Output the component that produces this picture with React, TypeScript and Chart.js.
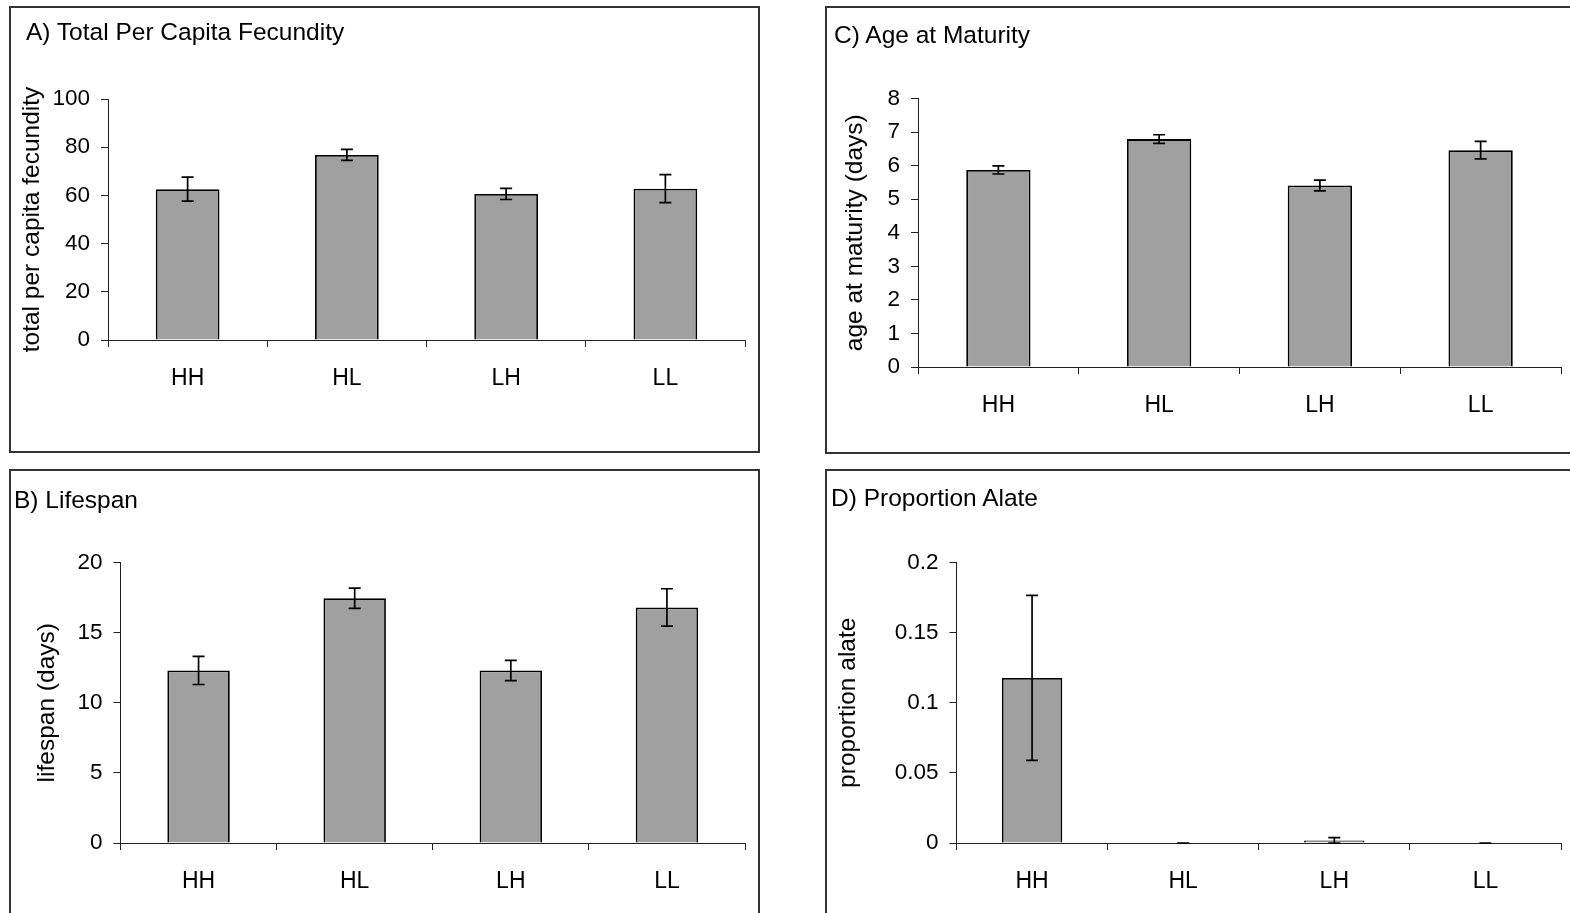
import React, { useEffect, useRef } from 'react';
import { Chart, registerables } from 'chart.js';

Chart.register(...registerables);

// ---- data ----
const categories = ['HH', 'HL', 'LH', 'LL'];

const fecundity = [62.6, 76.8, 60.6, 62.8];
const fecundityErr = [5.0, 2.3, 2.3, 5.8];
const fecundityTicks = [0, 20, 40, 60, 80, 100];

const maturity = [5.87, 6.79, 5.41, 6.46];
const maturityErr = [0.12, 0.13, 0.16, 0.26];
const maturityTicks = [0, 1, 2, 3, 4, 5, 6, 7, 8];

const lifespan = [12.3, 17.45, 12.3, 16.8];
const lifespanErr = [1.0, 0.72, 0.72, 1.33];
const lifespanTicks = [0, 5, 10, 15, 20];

const alate = [0.1177, 0, 0.0017, 0];
const alateErr = [0.0588, 0, 0.0021, 0];
const alateTicks = [0, 0.05, 0.1, 0.15, 0.2];

const FONT = '"Liberation Sans", Arial, Helvetica, sans-serif';

const errorBarPlugin = {
  id: 'errorBars',
  afterDatasetsDraw(chart: any, _args: any, opts: any) {
    const errs: number[] = opts.errors || [];
    const meta = chart.getDatasetMeta(0);
    const y = chart.scales.y;
    const ctx = chart.ctx;
    const vals = chart.data.datasets[0].data as number[];
    ctx.save();
    ctx.strokeStyle = '#000';
    ctx.lineWidth = 1.7;
    meta.data.forEach((bar: any, i: number) => {
      const v = vals[i];
      const e = errs[i] ?? 0;
      const yt = y.getPixelForValue(v + e);
      const yb = y.getPixelForValue(Math.max(v - e, 0));
      const x = bar.x;
      ctx.beginPath();
      ctx.moveTo(x, yt);
      ctx.lineTo(x, yb);
      ctx.moveTo(x - 6, yt);
      ctx.lineTo(x + 6, yt);
      ctx.moveTo(x - 6, yb);
      ctx.lineTo(x + 6, yb);
      ctx.stroke();
    });
    ctx.restore();
  },
};

type PanelProps = {
  title: string;
  yTitle: string;
  values: number[];
  errors: number[];
  ticks: number[];
  box: { left: number; top: number; width: number; height: number };
  titlePos: { left: number; top: number };
  yWidth: number;
  pad: { top: number; right: number; bottom: number };
  yTitlePad: number;
};

function Panel(p: PanelProps) {
  const ref = useRef<HTMLCanvasElement | null>(null);
  useEffect(() => {
    if (!ref.current) return;
    const chart = new Chart(ref.current, {
      type: 'bar',
      data: {
        labels: categories,
        datasets: [
          {
            data: p.values,
            backgroundColor: '#a0a0a0',
            borderColor: '#000',
            borderWidth: 1.8,
            barPercentage: 0.4,
            categoryPercentage: 1,
          },
        ],
      },
      options: {
        animation: false,
        responsive: true,
        maintainAspectRatio: false,
        layout: { padding: { top: p.pad.top, right: p.pad.right, bottom: p.pad.bottom, left: 0 } },
        plugins: {
          legend: { display: false },
          tooltip: { enabled: false },
          title: { display: false },
          errorBars: { errors: p.errors },
        } as any,
        scales: {
          x: {
            grid: { display: true, drawOnChartArea: false, drawTicks: true, tickLength: 7, color: '#222', offset: true },
            border: { display: true, color: '#222', width: 1 },
            ticks: { color: '#000', font: { family: FONT, size: 23 }, padding: 17.5, maxRotation: 0, autoSkip: false },
            afterFit: (s: any) => {
              s.height = 60;
            },
          },
          y: {
            min: 0,
            max: p.ticks[p.ticks.length - 1],
            afterBuildTicks: (s: any) => {
              s.ticks = p.ticks.map((v) => ({ value: v }));
            },
            grid: { display: true, drawOnChartArea: false, drawTicks: true, tickLength: 7, color: '#222' },
            border: { display: true, color: '#222', width: 1 },
            ticks: {
              color: '#000',
              font: { family: FONT, size: 22.5 },
              padding: 11,
              callback: (v: any) => String(v),
            },
            title: {
              display: true,
              text: p.yTitle,
              color: '#000',
              font: { family: FONT, size: 24.5 },
              padding: { top: p.yTitlePad, bottom: 0 },
            },
            afterFit: (s: any) => {
              s.width = p.yWidth;
            },
          },
        },
      } as any,
      plugins: [errorBarPlugin],
    });
    return () => chart.destroy();
  }, []);

  return (
    <>
      <div
        style={{
          position: 'absolute',
          left: p.box.left,
          top: p.box.top,
          width: p.box.width,
          height: p.box.height,
          border: '2px solid #333',
          boxSizing: 'border-box',
          background: '#fff',
        }}
      >
        <div style={{ position: 'relative', width: '100%', height: '100%' }}>
          <canvas ref={ref} />
        </div>
      </div>
      <div
        style={{
          position: 'absolute',
          left: p.titlePos.left,
          top: p.titlePos.top,
          fontFamily: FONT,
          fontSize: 24.5,
          lineHeight: 1,
          color: '#000',
          whiteSpace: 'nowrap',
        }}
      >
        {p.title}
      </div>
    </>
  );
}

export default function App() {
  return (
    <div style={{ position: 'fixed', left: 0, top: 0, width: '100vw', height: '100vh', overflow: 'hidden', background: '#fff' }}>
      <Panel
        title="A) Total Per Capita Fecundity"
        yTitle="total per capita fecundity"
        values={fecundity}
        errors={fecundityErr}
        ticks={fecundityTicks}
        box={{ left: 9, top: 6, width: 751, height: 447 }}
        titlePos={{ left: 26, top: 20 }}
        yWidth={97}
        pad={{ top: 91, right: 13, bottom: 51 }}
        yTitlePad={6.3}
      />
      <Panel
        title="C) Age at Maturity"
        yTitle="age at maturity (days)"
        values={maturity}
        errors={maturityErr}
        ticks={maturityTicks}
        box={{ left: 825, top: 6, width: 760, height: 448 }}
        titlePos={{ left: 834, top: 22.5 }}
        yWidth={91}
        pad={{ top: 90.5, right: 22, bottom: 25 }}
        yTitlePad={13.8}
      />
      <Panel
        title="B) Lifespan"
        yTitle="lifespan (days)"
        values={lifespan}
        errors={lifespanErr}
        ticks={lifespanTicks}
        box={{ left: 9, top: 469, width: 751, height: 462 }}
        titlePos={{ left: 14, top: 488 }}
        yWidth={109.5}
        pad={{ top: 91.5, right: 13, bottom: 26 }}
        yTitlePad={21.8}
      />
      <Panel
        title="D) Proportion Alate"
        yTitle="proportion alate"
        values={alate}
        errors={alateErr}
        ticks={alateTicks}
        box={{ left: 825, top: 469, width: 760, height: 462 }}
        titlePos={{ left: 831, top: 485.5 }}
        yWidth={129.5}
        pad={{ top: 91.5, right: 22, bottom: 26 }}
        yTitlePad={6.3}
      />
    </div>
  );
}
